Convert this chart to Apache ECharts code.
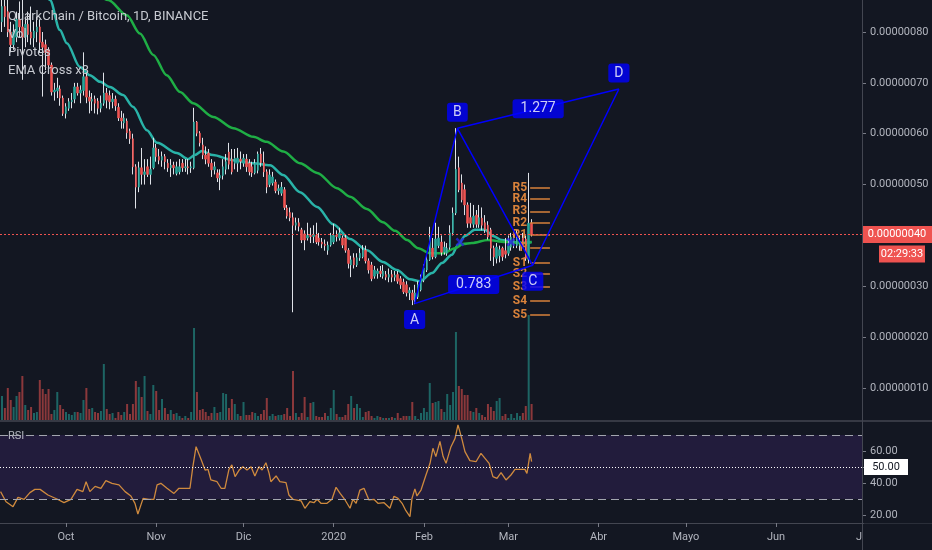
<!DOCTYPE html>
<html><head><meta charset="utf-8">
<script src="https://cdn.jsdelivr.net/npm/echarts@6/dist/echarts.min.js"></script>
<style>html,body{margin:0;padding:0;background:#131722}#c{width:932px;height:550px}</style>
</head><body><div id="c"></div>
<script>
// day index: 0 = 2019-10-01 ; first candle = 2019-09-09 (day -22), one candle per day
const firstDay = -22;
const openP = [82,85,84,80,77.5,79,82.5,81,79,81.5,
80,78.8,80,81,78,77.5,76.5,73.5,68.2,68.4,
68.8,67,64,65,66.3,66.8,69.2,68,68.5,71.2,
67.2,66.4,66.8,66.4,65,66,68,67.5,66.3,66.8,
65.2,63.1,62.1,62.5,60.5,59,53.5,49.5,53.3,52,
53.5,52,53.3,57.2,55.5,54.8,55.5,54.2,53.3,53.8,
52.2,52.5,54.2,53.3,53.5,53.3,53.3,62.3,60.1,57.8,
55.8,56.2,54.2,52.9,52.3,51.3,51.8,53,56.4,55,
54.2,54.2,55,54.2,55,54.2,53.5,52.3,52.8,56,
54.3,52.5,50,50.3,50.5,48.8,48.3,49,45.4,44.5,
43.5,42,42.5,41.1,40.3,39.5,40,39.8,40,39.5,
38.7,38.3,37.1,38.1,38.7,40,39.5,39.5,39.5,37.1,
34.2,35.6,34.2,35.6,35.8,37.1,35,34.2,32,32.5,
33,32,32.3,31.8,32.3,31.8,32.3,31.5,30.8,30.3,
28.7,28.7,27.3,27.9,29.3,31.2,33.2,35.2,37.5,35.8,
38,38.7,36.7,36.5,37.7,40.5,44.4,53.3,50.3,49,
46,43.5,42.2,44,42.2,43.4,42.5,42,41.1,37.5,
35.5,36,37.5,37,36.5,37.7,38.5,38,38,39.5,
39.3,35.3,42.4];
const highP = [87.5,88,88,82,81.5,84,86,86.5,83,84,
85,82,83,82.5,80,78.5,77,74,70,71,
69.5,67.5,66,67,68,70,70,69.5,76,72,
68.5,68,67.5,67,67.5,72,69,68.5,68,67.5,
66,64.5,64,63,61,60,54,54.5,57.2,55,
55,55.5,59.2,58,57,56.5,56,55,55,54.5,
54.5,55,55,55,55,54.5,65.1,62.5,60.5,59.2,
57.5,57,55,54.5,53,53,55,56,58.2,57,
57,57.2,56.5,56,56,55,54.5,55,56.5,57.2,
56.5,53,53,52.5,51,50,50.5,49.5,46,45.5,
44.5,43.5,43.4,41.5,41,42.5,41.5,42,42.5,40.5,
39.5,39.2,38.8,40.5,42.3,41,41.5,40,40.2,37.5,
36,36.5,36.5,37.5,38.1,38,35.5,34.8,34,33.5,
34,34.2,33,33.5,33.2,33,33,32,31.5,31,
29.8,29.3,30.3,31,32.3,34.3,36,41.7,39.5,42.5,
41.7,40,38.8,38.5,42,45.5,61.1,55.5,52,50,
46.5,46.4,46,45,46,45.5,44,42.8,41.5,38,
38.5,38,37.8,39.5,40,40.5,40.2,41.1,40,40.5,
40,52.3,43.2];
const lowP = [80,81,79,76,76.5,78,79,70.6,77,78,
77.5,77,78,76,67.3,72.5,72,67.5,66.5,67,
65.5,63.5,63,64.5,65,66,67.5,66,67.5,66,
64,64.5,64,63.8,64.2,65.5,65,64.8,65,64.5,
62.5,61,61,59,58,52,45.3,48.5,50,50,
51.5,50,53,54.5,54,53.5,53,52.5,51.5,52,
51.8,52,52.5,52.5,52,52.3,53,59.5,57.5,55,
54,53.5,51.5,52,50.5,48.9,51,52,53,52,
53,52.5,53,53.5,52.5,51.8,51.5,52,52.2,53.5,
51.5,48.3,49.5,49.8,48.3,48,47.8,45,43.3,42.8,
24.9,41,40.8,38.5,37.1,39,38.5,38.5,38.3,38,
37.5,37,36.2,37.8,38.3,38.8,39,37.5,36.6,33.5,
31.8,33.5,33.8,35,35.5,34.5,32.5,31,31.5,31.5,
31.8,31.5,31.2,30.8,30.8,31,30.5,29.5,28.5,28,
27.3,26.3,26.5,27.5,29,30.8,32.8,35,35.3,35.5,
37.5,36,36.2,36,37.2,40,44,48.5,46.5,44,
41.5,41.5,41.5,41.5,41.5,41,40.5,39.2,35,34,
34.5,34.7,35,35.5,36,37,37.5,37.5,37,37.5,
35,34.5,39.8];
const closeP = [85,83,80,77.5,80,82.5,81,79,81.5,79.5,
78.8,80.2,81,78,77,76,73.5,68.2,68.6,69,
67,64,65.3,66.3,66.6,69.2,68,68.6,71.2,67.2,
66.4,66.8,66,65,66,68,66.6,66.3,66.8,65.5,
63.1,62.5,63.1,60.2,59,53.5,49.5,53.3,52,52.5,
52,53,57.2,55.5,54.8,55.5,54.5,53.3,53.8,53.3,
53.5,53.5,53.3,53.5,53.3,53.5,62.3,60.1,58.2,55.8,
55,54.2,52.9,53.5,51.3,51.8,53.5,54.5,54,52.5,
55.2,55.2,54.6,55.2,53.5,52.5,52.3,54.2,56,54.3,
52.5,49.5,51.9,51.5,48.8,49.2,49.5,45.5,43.8,43.5,
42,42.5,41.8,39.1,39.1,40,39.8,40.2,38.7,38.7,
38.3,38,38.1,40,40,39.8,40.5,38.1,37.1,34.5,
35.2,34.2,35.6,36.5,37.1,35,33.2,31.5,33.2,33,
32.5,33,31.8,32.3,31.8,32.2,31,30.3,28.9,28.7,
29.2,27.3,28.7,30.3,31.6,33.6,35.2,39.7,35.8,39.3,
39.5,36.7,37.7,37.5,40.5,44.4,53,49,47,46,
42.4,42.4,43.8,42.2,43.5,42,41.1,39.7,37.5,35.8,
37.7,37.2,35.8,36.3,38,39.7,39,39.5,38.8,37.8,
35.5,42.4,40.2];
const volume = [24,12,32,20,13,24,28,44,15,10,
13,7,8,40,31,26,31,6,10,28,
15,11,8,6,5,8,8,7,20,32,
11,12,8,7,9,56,11,6,7,2,
8,5,8,16,6,16,39,33,23,44,
9,6,35,29,10,21,12,6,10,6,
7,4,2,4,2,8,92,28,10,11,
8,4,7,13,7,8,27,26,12,21,
16,6,4,18,5,5,8,7,4,6,
10,22,4,6,4,5,
5,6,12,4,49,7,3,7,23,3,
17,18,4,3,3,7,4,12,30,6,
3,3,5,16,24,12,16,12,3,8,
9,4,2,4,3,2,2,2,3,2,
7,2,4,4,4,18,4,1,7,12,
8,37,17,18,19,11,8,26,15,28,
88,34,31,25,25,9,8,12,7,5,
3,16,13,9,19,22,4,6,2,6,
2,7,4,7,14,105,16];

// EMA lines (sampled readings: day, value)
const emaFastDay = [-9,-5.5,-2.1,0.3,4.8,8.2,11.7,15.1,19.6,23,27.8,31.3,38.1,41.9,44.3,46.7,50.5,57.4,64.3,70.1,74.6,80.4,86.3,91.8,97.6,103.4,108.9,113.7,118.2,121.6,125.8,129.2,132.6,134.7,137.1,140.5,144,146.7,149.8,153.3,156.7,160];
const emaFastVal = [90.5,86.3,80.4,77.8,73.1,71.5,70.2,69.2,67.6,65.3,60.7,58.2,56.2,55,55.8,56.6,55.8,54.8,54.2,53.8,51.9,48.5,45.6,42.2,39.3,37.1,34.8,33.2,31.4,31,32.6,34.6,36.2,38.1,39.9,41.1,41.1,39.9,39.1,38.7,38.5,38.7];
const emaSlowDay = [8,14.5,20.9,25.4,30,34.6,39.2,43.7,50.6,57.5,64.4,68.9,74.7,80.4,86.3,93.1,97.6,103.4,108.9,113.1,117.2,121,125.1,129.6,133.7,136.4,139.5,145,150.9,156.7,160];
const emaSlowVal = [89.2,86.3,83.3,79.7,75.5,71.5,68.2,66,63.3,61.1,59.4,58.4,56.5,54.2,52.3,49.3,47.6,45.2,42.6,40.9,39.1,37.5,36.5,36.5,37.5,38.3,38.5,39.1,38.7,38.5,38.7];
const crossDay = [135.4,152.9];
const crossVal = [38.7,38.7];

// RSI (sampled readings: day, value)
const rsiDay = [-22.5,-20.6,-18.2,-16.5,-14.4,-12.4,-10.7,-8.9,-6.2,-3.1,-0.7,1.7,3.8,5.8,6.9,8.2,10,12,13.7,15.8,18.2,20.3,22.3,23.7,24.7,26.5,28.5,30.2,31.3,32.6,34.7,37.1,38.8,41.9,42.6,43.6,44.7,46.4,47.8,48.8,49.8,51.9,53.3,54.6,56,57,58.1,59.5,60.8,62.2,63.6,64.9,66.3,67.4,68.7,69.8,70.4,72.2,73.5,75.6,76.6,78,80.8,82.1,83.8,85.2,86.3,87.6,89.7,91.4,92.8,94.2,95.9,97.6,98.6,99.7,101,102.4,104.1,105.8,107.2,109.3,111.3,112.7,114.1,115.5,116.8,118.2,118.9,119.9,120.6,122,123.7,125.1,126.1,127.1,128.5,129.6,130.6,132.3,133.7,134.7,136.1,137.1,138.8,140.9,142.6,144,145.4,146.7,148.1,149.5,151.2,152.9,154.3,156.4,157.7,158.4,159.5,160];
const rsiVal = [34.6,28.3,25.2,31,29.8,34,36,36,32.5,30,27.7,29.8,36,34.6,40.8,34.6,37.9,36.7,41.5,39.8,38.8,34.6,31.9,27.3,20.6,30.4,29.8,29.8,38.8,39.8,36.7,33.5,36.7,36.7,36.7,50.2,62.7,54.8,48.1,48.5,41.9,40.8,36.7,36.7,48.5,51.3,44,48.1,50.2,48.1,50.2,44.4,50.2,48.1,52.7,46,40.8,44.4,40.8,40.2,32.5,29.8,28.8,24.2,28.3,27.7,29.8,27.3,27.3,29.8,37.3,33.5,29.4,24.2,29.8,27.3,35.6,36.7,29.4,29.8,27.3,27.7,24.2,31.7,30.4,27.3,22.7,19,30.4,36.3,31.9,35.6,45,52.3,61.7,56.5,66,56.5,52.3,62.7,67.9,76.3,67.1,59.6,54,53.3,58.5,55.4,52.3,44,42.9,46.5,41.9,45,48.5,48.5,48.5,46,58.5,53.3];

// Pivots
const pivotNames = ['R5','R4','R3','R2','R1','P','S1','S2','S3','S4','S5'];
const pivotVals = [49.33,47.17,44.71,42.45,40.09,37.53,34.58,32.42,29.86,27.11,24.36];
const pivotFrom = 159.5, pivotTo = 166.3;

// XABCD pattern
const patternNames = ['A','B','C','D'];
const patternDay = [119.8,134.5,160.4,190];
const patternVal = [26.6,61.06,34.13,68.8];
const ratioText = ['0.783','1.277'];

// axis ticks
const monthDays = [0,31,61,92,123,152,183,213,244,274];
const monthLabels = ['Oct','Nov','Dic','2020','Feb','Mar','Abr','Mayo','Jun','Jul'];
const priceTicks = [10,20,30,40,50,60,70,80];
const priceLabelTicks = [10,20,30,50,60,70,80];
const rsiTicks = [20,40,50,60];
const rsiLabelTicks = [20,40,60];
const countdown = '02:29:33';

// ---------- build ----------
const BG = '#131722', UP = '#26a69a', DN = '#ef5350', WICK = '#dfe2e8', BLUE = '#0000ff', PIV = '#d9823b';
const TXT = '#b2b5be';
const FONT = 'Roboto, "Noto Sans", sans-serif';
const pxDay = 2.91, xMin = -66 / pxDay, xMax = xMin + 862 / pxDay, xMaxLab = xMin + 932 / pxDay;

const n = openP.length;
const days = openP.map((_, i) => firstDay + i);
const wickData = days.map((d, i) => [d, openP[i], closeP[i], lowP[i], highP[i]]);
const bodyData = days.map((d, i) => [d, openP[i], closeP[i], Math.min(openP[i], closeP[i]), Math.max(openP[i], closeP[i])]);
const volData = days.map((d, i) => ({
  value: [d, volume[i]],
  itemStyle: { color: closeP[i] >= openP[i] ? 'rgba(38,166,154,0.55)' : 'rgba(239,83,80,0.55)' }
}));
const lastClose = closeP[n - 1];
const zip = (a, b) => a.map((v, i) => [v, b[i]]);
const P = patternNames.map((nm, i) => [patternDay[i], patternVal[i]]);
const mid = (p, q) => [(p[0] + q[0]) / 2, (p[1] + q[1]) / 2];

const boxLabel = {
  show: true, formatter: '{b}', backgroundColor: BLUE, color: '#fff',
  padding: [3, 6, 2, 6], borderRadius: 3, fontSize: 14, fontFamily: FONT
};
const noLine = { show: false, onZero: false };

const option = {
  backgroundColor: BG,
  animation: false,
  title: [
    { left: 8, top: 8, padding: 0, text: 'QuarkChain / Bitcoin, 1D, BINANCE\nVol\nPivotes\nEMA Cross x3',
      textStyle: { color: '#c7cad1', fontSize: 13, fontWeight: 'normal', lineHeight: 18, fontFamily: FONT } },
    { left: 8, top: 431, padding: 0, text: 'RSI', textStyle: { color: TXT, fontSize: 11, fontWeight: 'normal', fontFamily: FONT } }
  ],
  grid: [
    { left: 0, right: 70, top: 0, height: 420 },
    { left: 0, right: 70, top: 422, height: 100 },
    { left: 0, right: 0, top: 522, height: 1 }
  ],
  xAxis: [
    { type: 'value', gridIndex: 0, min: xMin, max: xMax, show: false, axisLine: noLine, splitLine: { show: false } },
    { type: 'value', gridIndex: 1, min: xMin, max: xMax, show: false, axisLine: noLine, splitLine: { show: false } },
    { type: 'value', gridIndex: 2, min: xMin, max: xMaxLab, position: 'bottom',
      axisLine: { show: true, onZero: false, lineStyle: { color: '#434651', width: 1 } },
      axisTick: { show: true, customValues: monthDays, length: 4, lineStyle: { color: '#787b86' } },
      splitLine: { show: false },
      axisLabel: { customValues: monthDays, color: TXT, fontSize: 11, fontFamily: FONT, margin: 9,
        formatter: v => { const k = monthDays.findIndex(m => Math.abs(m - v) < 0.01); return k >= 0 ? monthLabels[k] : ''; } } }
  ],
  yAxis: [
    { type: 'value', gridIndex: 0, position: 'right', min: 80 - 388 / 5.086, max: 80 + 32 / 5.086,
      axisLine: noLine, splitLine: { show: false },
      axisTick: { show: true, customValues: priceTicks, length: 4, lineStyle: { color: '#787b86' } },
      axisLabel: { customValues: priceLabelTicks, color: TXT, fontSize: 11, fontFamily: FONT, margin: 8,
        formatter: v => (v * 1e-8).toFixed(8) } },
    { type: 'value', gridIndex: 0, min: 0, max: 420, show: false, axisLine: noLine, splitLine: { show: false } },
    { type: 'value', gridIndex: 1, position: 'right', min: 50 - 55 / 1.6, max: 50 + 45 / 1.6,
      axisLine: noLine, splitLine: { show: false },
      axisTick: { show: true, customValues: rsiTicks, length: 4, lineStyle: { color: '#787b86' } },
      axisLabel: { customValues: rsiLabelTicks, color: TXT, fontSize: 11, fontFamily: FONT, margin: 8,
        formatter: v => v.toFixed(2) } },
    { type: 'value', gridIndex: 2, min: 0, max: 1, show: false, axisLine: noLine, splitLine: { show: false } }
  ],
  series: [
    { name: 'Vol', type: 'bar', xAxisIndex: 0, yAxisIndex: 1, barWidth: 2, data: volData, z: 1, silent: true },
    { name: 'EMA1', type: 'line', xAxisIndex: 0, yAxisIndex: 0, data: zip(emaFastDay, emaFastVal),
      symbol: 'none', smooth: 0.3, smoothMonotone: 'x', lineStyle: { color: '#29b3a8', width: 2.5 }, z: 2, silent: true,
      markLine: { silent: true, symbol: ['none', 'none'],
        lineStyle: { color: PIV, width: 1.5, type: 'solid' },
        label: { show: true, position: 'start', formatter: '{b}', color: PIV, fontSize: 12, fontWeight: 'bold', fontFamily: FONT, distance: 3 },
        data: pivotNames.map((nm, k) => [{ coord: [pivotFrom, pivotVals[k]], name: nm }, { coord: [pivotTo, pivotVals[k]] }]) } },
    { name: 'EMA2', type: 'line', xAxisIndex: 0, yAxisIndex: 0, data: zip(emaSlowDay, emaSlowVal),
      symbol: 'none', smooth: 0.3, smoothMonotone: 'x', lineStyle: { color: '#1fae45', width: 2.5 }, z: 2, silent: true },
    { name: 'wick', type: 'candlestick', xAxisIndex: 0, yAxisIndex: 0, data: wickData, encode: { x: 0, y: [1, 2, 3, 4] },
      barWidth: 1, z: 3, silent: true,
      itemStyle: { color: WICK, color0: WICK, borderColor: WICK, borderColor0: WICK, borderWidth: 1 } },
    { name: 'body', type: 'candlestick', xAxisIndex: 0, yAxisIndex: 0, data: bodyData, encode: { x: 0, y: [1, 2, 3, 4] },
      barWidth: 2, z: 4, silent: true,
      itemStyle: { color: UP, color0: DN, borderColor: UP, borderColor0: DN, borderWidth: 0.6 },
      markLine: { silent: true, symbol: ['none', 'none'], label: { show: false },
        lineStyle: { color: DN, width: 1, type: [2, 2] }, data: [{ yAxis: lastClose }] } },
    { name: 'cross', type: 'scatter', xAxisIndex: 0, yAxisIndex: 0, data: zip(crossDay, crossVal),
      symbol: 'path://M2,0L5,3L8,0L10,2L7,5L10,8L8,10L5,7L2,10L0,8L3,5L0,2Z', symbolSize: 9,
      itemStyle: { color: '#2424e0' }, z: 5, silent: true },
    { name: 'XABCD', type: 'line', xAxisIndex: 0, yAxisIndex: 0, data: P, symbol: 'none',
      lineStyle: { color: BLUE, width: 1.5 }, z: 6, silent: true },
    { name: 'AC', type: 'line', xAxisIndex: 0, yAxisIndex: 0, data: [P[0], P[2]], symbol: 'none',
      lineStyle: { color: BLUE, width: 1.5 }, z: 6, silent: true },
    { name: 'BD', type: 'line', xAxisIndex: 0, yAxisIndex: 0, data: [P[1], P[3]], symbol: 'none',
      lineStyle: { color: BLUE, width: 1.5 }, z: 6, silent: true },
    { name: 'pts', type: 'scatter', xAxisIndex: 0, yAxisIndex: 0, symbolSize: 1, z: 7, silent: true,
      itemStyle: { color: 'rgba(0,0,0,0)' },
      data: patternNames.map((nm, i) => ({ name: nm, value: P[i],
        label: Object.assign({}, boxLabel, { position: (i % 2 === 0) ? 'bottom' : 'top', distance: 6 }) })) },
    { name: 'ratios', type: 'scatter', xAxisIndex: 0, yAxisIndex: 0, symbolSize: 1, z: 7, silent: true,
      itemStyle: { color: 'rgba(0,0,0,0)' },
      data: [
        { name: ratioText[0], value: mid(P[0], P[2]), label: Object.assign({}, boxLabel, { position: 'inside', padding: [3, 8, 2, 8] }) },
        { name: ratioText[1], value: mid(P[1], P[3]), label: Object.assign({}, boxLabel, { position: 'inside', padding: [3, 8, 2, 8] }) }
      ] },
    { name: 'RSI', type: 'line', xAxisIndex: 1, yAxisIndex: 2, data: zip(rsiDay, rsiVal), symbol: 'none',
      lineStyle: { color: '#cf8a3e', width: 1.3 }, z: 3, silent: true,
      markArea: { silent: true, itemStyle: { color: 'rgba(103,58,183,0.18)' }, data: [[{ yAxis: 30 }, { yAxis: 70 }]] },
      markLine: { silent: true, symbol: ['none', 'none'], label: { show: false },
        data: [
          { yAxis: 70, lineStyle: { color: '#a3a6af', width: 1, type: [8, 5] } },
          { yAxis: 30, lineStyle: { color: '#a3a6af', width: 1, type: [8, 5] } },
          { yAxis: 50, lineStyle: { color: '#ffffff', width: 1, type: [1, 2] } }
        ] } }
  ]
};

const chart = echarts.init(document.getElementById('c'), null, { renderer: 'canvas' });
chart.setOption(option);

const pY = chart.convertToPixel({ gridIndex: 0 }, [0, lastClose])[1];
const r50 = chart.convertToPixel({ gridIndex: 1 }, [0, 50])[1];
const f11 = '11px ' + FONT;
chart.setOption({
  graphic: [
    { type: 'line', z: 90, shape: { x1: 0, y1: 421, x2: 932, y2: 421 }, style: { stroke: '#434651', lineWidth: 1.5 } },
    { type: 'rect', z: 95, shape: { x: 863, y: 523.5, width: 69, height: 27 }, style: { fill: BG } },
    { type: 'line', z: 96, shape: { x1: 862.5, y1: 0, x2: 862.5, y2: 550 }, style: { stroke: '#434651', lineWidth: 1 } },
    { type: 'rect', z: 100, shape: { x: 863, y: pY - 8.5, width: 69, height: 17 }, style: { fill: DN } },
    { type: 'text', z: 101, x: 897, y: pY, style: { text: (lastClose * 1e-8).toFixed(8), fill: '#fff', font: f11, align: 'center', verticalAlign: 'middle' } },
    { type: 'rect', z: 100, shape: { x: 879, y: pY + 11, width: 46, height: 17 }, style: { fill: DN } },
    { type: 'text', z: 101, x: 902, y: pY + 19.5, style: { text: countdown, fill: '#fff', font: f11, align: 'center', verticalAlign: 'middle' } },
    { type: 'rect', z: 100, shape: { x: 864, y: r50 - 8, width: 44, height: 16 }, style: { fill: '#ffffff' } },
    { type: 'text', z: 101, x: 886, y: r50, style: { text: (50).toFixed(2), fill: BG, font: f11, align: 'center', verticalAlign: 'middle' } }
  ]
});
</script>
</body></html>
